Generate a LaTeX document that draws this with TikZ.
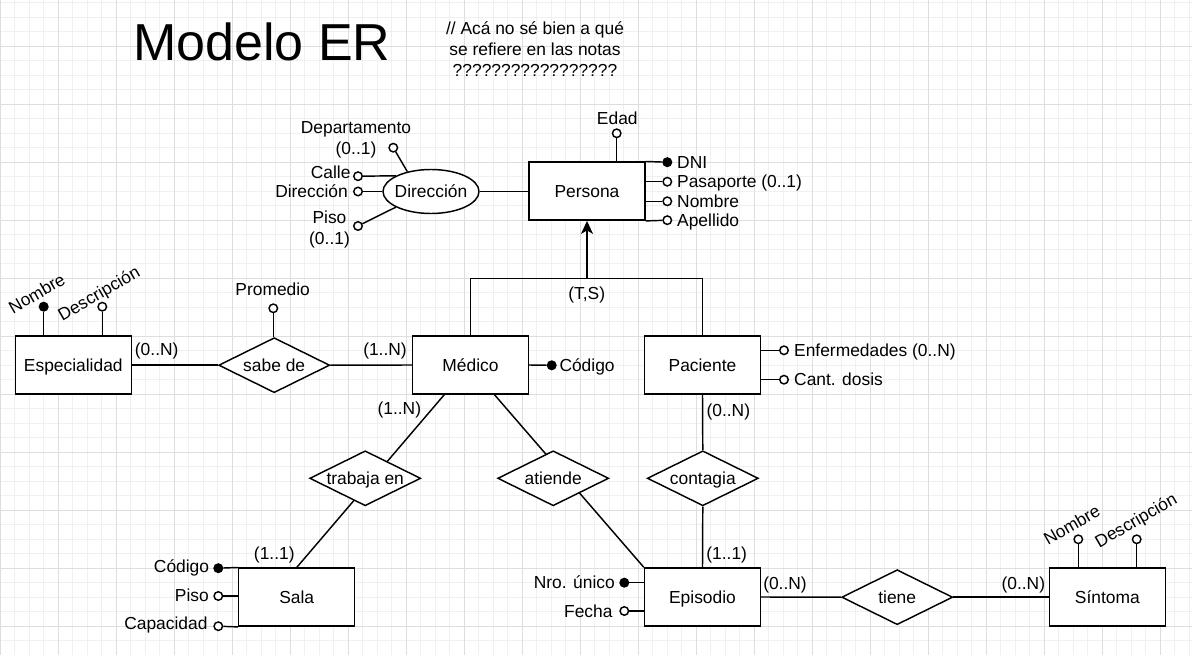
\documentclass[tikz,border=0pt]{standalone}
\usepackage{fontspec}
\setmainfont{Liberation Sans}
\usetikzlibrary{shapes.geometric,arrows.meta,calc}
\pgfdeclarelayer{gridlayer}
\pgfdeclarelayer{edgelayer}
\pgfsetlayers{gridlayer,edgelayer,main}
\newcommand\fs{\fontsize{17.4}{20.9}\selectfont}
\tikzset{
  lw/.style={line width=1.45pt},
  entity/.style={draw, lw, fill=white, rectangle, minimum width=116pt, minimum height=58pt, inner sep=0pt, font=\fs, text height=12.5pt, text depth=0pt},
  rel/.style={draw, lw, fill=white, diamond, aspect=2, minimum width=111pt, minimum height=55pt, inner sep=0pt, font=\fs, text height=12.5pt, text depth=0pt},
  attr/.style={circle, draw, lw, fill=white, minimum size=8.5pt, inner sep=0pt},
  keyattr/.style={attr, fill=black},
  lbl/.style={font=\fs, inner sep=0pt, text height=12.5pt, text depth=0pt},
  lblm/.style={font=\fs, inner sep=0pt, align=center},
  conn/.style={lw, line cap=butt},
  gridminor/.style={line width=0.9pt, color=black!6},
  gridmajor/.style={line width=0.9pt, color=black!13},
}
\begin{document}
\begin{tikzpicture}[x=1pt, y=-1pt]
\useasboundingbox (0,0) rectangle (1192,655);
\begin{pgfonlayer}{gridlayer}
  \fill[white] (0,0) rectangle (1192,655);
  \foreach \i in {0,...,82} {\draw[gridminor] (\i*14.5,0) -- (\i*14.5,655);}
  \foreach \j in {0,...,45} {\draw[gridminor] (0,2.5+\j*14.5) -- (1192,2.5+\j*14.5);}
  \foreach \i in {0,...,20} {\draw[gridmajor] (\i*58,0) -- (\i*58,655);}
  \foreach \j in {1,...,11} {\draw[gridmajor] (0,-12+\j*58) -- (1192,-12+\j*58);}
\end{pgfonlayer}

% title and note
\node[font=\fontsize{52}{62}\selectfont, inner sep=0pt, text height=37.2pt, text depth=0pt] (title) at (262,41.5) {Modelo ER};
\node[lblm, anchor=base] (note) at (535,76.1) {// Acá no sé bien a qué\\se refiere en las notas\\?????????????????};

% entities
\node[entity] (persona) at (587,191.2) {Persona};
\node[entity] (esp) at (73.3,365.2) {Especialidad};
\node[entity] (medico) at (470.5,365) {Médico};
\node[entity] (paciente) at (702.5,365) {Paciente};
\node[entity] (sala) at (296.7,597.2) {Sala};
\node[entity] (episodio) at (702.5,597) {Episodio};
\node[entity] (sintoma) at (1107.3,597.2) {Síntoma};

% relationships
\node[rel] (sabe) at (274.2,365.2) {sabe de};
\node[rel] (trabaja) at (365.2,478.3) {trabaja en};
\node[rel] (atiende) at (553.2,478.3) {atiende};
\node[rel] (contagia) at (702.8,478.3) {contagia};
\node[rel] (tiene) at (897.2,597.2) {tiene};

% composite attribute
\node[draw, lw, fill=white, ellipse, minimum width=96pt, minimum height=44pt, inner sep=0pt, font=\fs, text height=12.5pt, text depth=0pt] (dirE) at (431,191.5) {\makebox[0pt]{Dirección}};

% Persona attributes
\node[keyattr] (pDNI) at (667.3,162.2) {};
\node[attr] (pPas) at (667.3,181.7) {};
\node[attr] (pNom) at (667.3,201.3) {};
\node[attr] (pApe) at (667.3,220.2) {};
\node[attr] (pEdad) at (616.7,133.3) {};
\node[lbl, anchor=west] (tDNI) at (677,162.2) {DNI};
\node[lbl, anchor=west] (tPas) at (677,181.7) {Pasaporte (0..1)};
\node[lbl, anchor=west] (tNom) at (677,201.3) {Nombre};
\node[lbl, anchor=west] (tApe) at (677,220.2) {Apellido};
\node[lbl] (tEdad) at (617.3,118.3) {Edad};

% Direccion attributes
\node[attr] (aDep) at (393.3,147.7) {};
\node[attr] (aCal) at (358,176.2) {};
\node[attr] (aDir) at (358,191.5) {};
\node[attr] (aPiso) at (358,226) {};
\node[lblm, anchor=base] (tDep) at (356,154.8) {Departamento\\(0..1)};
\node[lbl, anchor=east] (tCal) at (350.7,172.7) {Calle};
\node[lbl, anchor=east] (tDir) at (348,191.7) {Dirección};
\node[lblm, anchor=base] (tPiso) at (329.5,244.8) {Piso\\(0..1)};

% generalization
\coordinate (gen) at (587,278.3);
\node[lbl] (tTS) at (586.7,293.3) {(T,S)};

% Medico attribute
\node[keyattr] (mCod) at (551.7,365.3) {};
\node[lbl, anchor=west] (tmCod) at (559.3,365.3) {Código};

% Paciente attributes
\node[attr] (pEnf) at (784,350.3) {};
\node[attr] (pCant) at (784,379.7) {};
\node[lbl, anchor=west] (tEnf) at (794,350.3) {Enfermedades (0..N)};
\node[lbl, anchor=west] (tCant) at (794,379.7) {Cant. dosis};

% Especialidad attributes
\node[keyattr] (eNom) at (43.7,306.7) {};
\node[attr] (eDes) at (102.3,306.7) {};
\node[lbl, rotate=30] (teNom) at (36.7,293.3) {Nombre};
\node[lbl, rotate=30] (teDes) at (98.7,293.3) {Descripción};

% sabe de attribute
\node[attr] (sProm) at (273.3,308.3) {};
\node[lbl] (tProm) at (272.7,289.3) {Promedio};

% Sala attributes
\node[keyattr] (sCod) at (218.3,568.2) {};
\node[attr] (sPiso) at (218.3,596) {};
\node[attr] (sCap) at (218.3,626.2) {};
\node[lbl, anchor=east] (tsCod) at (209.3,566.7) {Código};
\node[lbl, anchor=east] (tsPiso) at (209,595.7) {Piso};
\node[lbl, anchor=east] (tsCap) at (207.7,623.5) {Capacidad};

% Episodio attributes
\node[keyattr] (epNro) at (624.3,582.7) {};
\node[attr] (epFecha) at (624.3,611) {};
\node[lbl, anchor=east] (tNro) at (615,582.2) {Nro. único};
\node[lbl, anchor=east] (tFecha) at (612.7,611.3) {Fecha};

% Sintoma attributes
\node[attr] (siNom) at (1078.3,539.3) {};
\node[attr] (siDes) at (1136.7,539.3) {};
\node[lbl, rotate=30] (tsiNom) at (1071.7,525) {Nombre};
\node[lbl, rotate=30] (tsiDes) at (1135.7,520) {Descripción};

% cardinalities
\node[lbl] (c1) at (156.7,349.3) {(0..N)};
\node[lbl] (c2) at (385,349.3) {(1..N)};
\node[lbl] (c3) at (399.3,408.3) {(1..N)};
\node[lbl] (c4) at (274.3,553.3) {(1..1)};
\node[lbl] (c5) at (728.3,410) {(0..N)};
\node[lbl] (c6) at (726.7,553.3) {(1..1)};
\node[lbl] (c7) at (785,583.3) {(0..N)};
\node[lbl] (c8) at (1023.3,583.3) {(0..N)};

\coordinate (mS) at ([xshift=32.5pt]medico.south west);
\coordinate (mE) at ([xshift=82.7pt]medico.south west);

\begin{pgfonlayer}{edgelayer}
  % Persona
  \draw[conn] (persona.north east) -- (pDNI);
  \draw[conn] (persona.east |- pPas) -- (pPas);
  \draw[conn] (persona.east |- pNom) -- (pNom);
  \draw[conn] (persona.south east) -- (pApe);
  \draw[conn] (pEdad) -- (pEdad |- persona.north);
  \draw[conn] (dirE.east) -- (dirE.east -| persona.west);
  % Direccion
  \draw[conn] (aDep) -- (dirE.140);
  \draw[conn] (aCal) -- (dirE.156);
  \draw[conn] (aDir) -- (dirE.west);
  \draw[conn] (aPiso) -- (dirE.204);
  % generalization
  \draw[conn] (medico.north) |- (gen) -| (paciente.north);
  \draw[conn, -{Stealth[length=13pt, width=12pt, inset=3.5pt]}] (gen) -- (persona.south);
  % Medico / Paciente attributes
  \draw[conn] (medico.east) -- (mCod);
  \draw[conn] (paciente.east |- pEnf) -- (pEnf);
  \draw[conn] (paciente.east |- pCant) -- (pCant);
  % Especialidad
  \draw[conn] (eNom) -- (eNom |- esp.north);
  \draw[conn] (eDes) -- (eDes |- esp.north);
  \draw[conn] (esp.east) -- (sabe.west);
  \draw[conn] (sabe.east) -- (medico.west);
  \draw[conn] (sProm) -- (sProm |- sabe.north);
  % trabaja en / atiende / contagia
  \draw[conn] (mS) -- (sala.north);
  \draw[conn] (mE) -- (episodio.north west);
  \draw[conn] (paciente.south) -- (contagia.north);
  \draw[conn] (contagia.south) -- (episodio.north);
  % Sala
  \draw[conn] (sCod) -- (sala.north west);
  \draw[conn] (sPiso) -- (sPiso -| sala.west);
  \draw[conn] (sCap) -- (sala.south west);
  % Episodio
  \draw[conn] (epNro) -- (epNro -| episodio.west);
  \draw[conn] (epFecha) -- (epFecha -| episodio.west);
  \draw[conn] (episodio.east) -- (tiene.west);
  \draw[conn] (tiene.east) -- (sintoma.west);
  % Sintoma
  \draw[conn] (siNom) -- (siNom |- sintoma.north);
  \draw[conn] (siDes) -- (siDes |- sintoma.north);
\end{pgfonlayer}
\end{tikzpicture}
\end{document}
